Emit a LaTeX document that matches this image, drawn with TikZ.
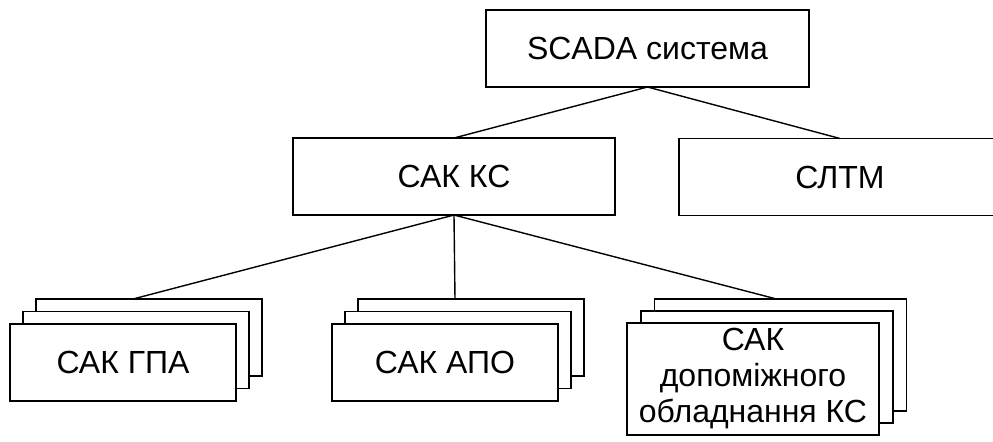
\documentclass[tikz,border=0pt]{standalone}
\usepackage{fontspec}
\setmainfont{Liberation Sans}
\usepackage{tikz}
\usetikzlibrary{positioning,calc}
\tikzset{
boxnode/.style={rectangle, draw=black, line width=0.8pt, fill=white, inner sep=0pt, outer sep=0pt,
                minimum width=161pt, minimum height=38.5pt, font=\fontsize{16}{18}\selectfont},
stacknode/.style={boxnode, minimum width=113pt},
bignode/.style={boxnode, minimum width=126pt, minimum height=56pt, align=center},
edgeline/.style={line width=0.7pt}
}
\begin{document}
\begin{tikzpicture}[x=0.5pt, y=-0.5pt]
\clip (0,0) rectangle (993,441);
\useasboundingbox (0,0) rectangle (993,441);

%Top levels
\node[boxnode, minimum width=161.5pt] (scada) at(647.5,48.5) {SCADA система};
\node[boxnode] (sakKs) at(454,176.5) {САК КС};
\node[boxnode] (sltm) at(840,177) {СЛТМ};

%Stacked subsystems (back to front)
\node[stacknode] (sakGpaC) at(149,337.5) {};
\node[stacknode] (sakGpaB) at(136,350) {};
\node[stacknode] (sakGpa) at(123,362.5) {САК ГПА};

\node[stacknode] (sakApoC) at(471,337.5) {};
\node[stacknode] (sakApoB) at(458,350) {};
\node[stacknode] (sakApo) at(445,362.5) {САК АПО};

\node[bignode] (sakDopC) at(780.5,355) {};
\node[bignode] (sakDopB) at(767,367) {};
\node[bignode] (sakDop) at(753,379) {САК\\допоміжного\\обладнання КС};

\draw[edgeline] (scada.south) -- (sakKs.north);
\draw[edgeline] (scada.south) -- (sltm.north);
\draw[edgeline] (sakKs.south) -- ([xshift=-8pt]sakGpaC.north);
\draw[edgeline] (sakKs.south) -- ([xshift=-8pt]sakApoC.north);
\draw[edgeline] (sakKs.south) -- ([xshift=-2pt]sakDopC.north);

\end{tikzpicture}
\end{document}
